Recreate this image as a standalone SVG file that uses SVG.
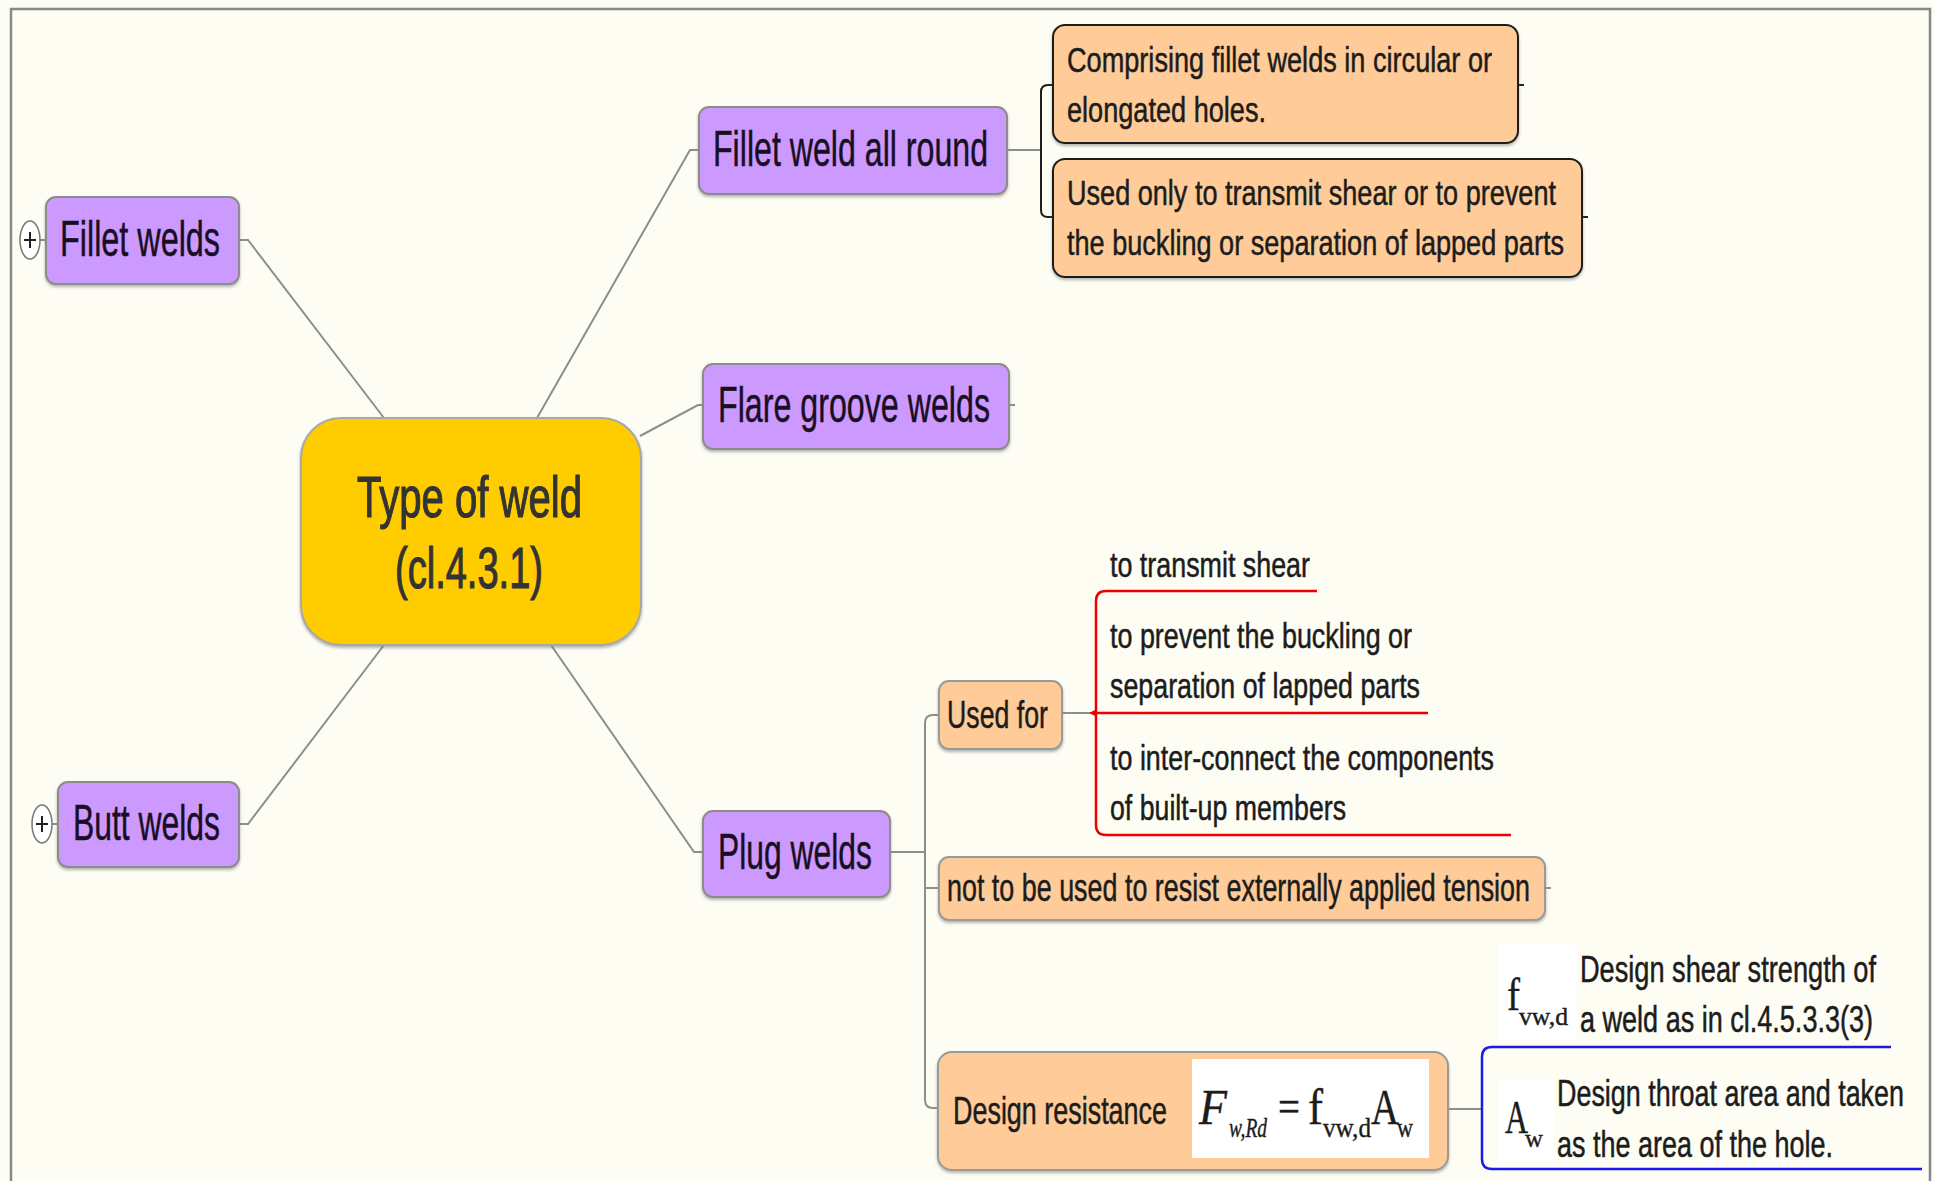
<svg xmlns="http://www.w3.org/2000/svg" width="1934" height="1181" viewBox="0 0 1934 1181">
<defs>
  <filter id="sh" x="-5%" y="-10%" width="110%" height="125%">
    <feDropShadow dx="0" dy="2" stdDeviation="1.5" flood-color="#777" flood-opacity="0.55"/>
  </filter>
</defs>
<style>
.sans{font-family:"Liberation Sans",Arial,sans-serif;fill:#1c1c1c;stroke:#1c1c1c;stroke-width:0.5}
.serif{font-family:"Liberation Serif","Times New Roman",serif;fill:#1c1c1c;stroke:#1c1c1c;stroke-width:0.4}
.purple{fill:#CC99FF;stroke:#8c8c8c;stroke-width:2;filter:url(#sh)}
.orange{fill:#FFCC99;stroke:#9a9a9a;stroke-width:2;filter:url(#sh)}
.orangeDark{fill:#FFCC99;stroke:#1e1e1e;stroke-width:2;filter:url(#sh)}
.central{fill:#FFCC00;stroke:#a8a8a8;stroke-width:2;filter:url(#sh)}
.ptxt{font-size:50px;fill:#1a0f22;stroke:#1a0f22}
.ctxt{fill:#333;stroke:#333;stroke-width:1.2}
.conn{fill:none;stroke:#8e8e8e;stroke-width:2}
.blk{fill:none;stroke:#1e1e1e;stroke-width:2}
.red{fill:none;stroke:#EE0000;stroke-width:2.5}
.blue{fill:none;stroke:#1a1aEE;stroke-width:2.5}
.plus{fill:#ffffff;stroke:#777;stroke-width:1.5}
.plusl{stroke:#222;stroke-width:2}
</style>
<rect x="0" y="0" width="1934" height="1181" fill="#FDFDF4"/>
<path d="M11,1181 V9 H1930 V1181" fill="none" stroke="#888" stroke-width="2.5"/>

<g id="connectors">
  <path class="conn" d="M239,240 H248 L384,418"/>
  <path class="conn" d="M537,418 L690,150 H699"/>
  <path class="conn" d="M640,436 L698,405 H703"/>
  <path class="conn" d="M1009,405 H1015"/>
  <path class="conn" d="M551,645 L694,852 H703"/>
  <path class="conn" d="M384,645 L248,824 H239"/>
  <path class="conn" d="M40,240 H46"/>
  <path class="conn" d="M52,824 H58"/>
  <path class="conn" d="M1007,150 H1041"/>
  <path class="blk" d="M1053,85 H1048 Q1041,85 1041,92 V210 Q1041,217 1048,217 H1053"/>
  <path class="blk" d="M1518,85 H1524"/>
  <path class="blk" d="M1582,217 H1588"/>
  <path class="conn" d="M890,852 H925"/>
  <path class="conn" d="M939,715 H933 Q925,715 925,723 V1100 Q925,1108 933,1108 H939"/>
  <path class="conn" d="M925,888 H939"/>
  <path class="conn" d="M1545,888 H1551"/>
  <path class="conn" d="M1062,713 H1096"/>
  <path class="red" d="M1317,591 H1106 Q1096,591 1096,601 V825 Q1096,835 1106,835 H1511"/>
  <path class="red" d="M1094,713 H1428"/>
  <path d="M1089,713 L1097,709 L1097,717 Z" fill="#EE0000"/>
  <path class="conn" d="M1448,1109 H1482"/>
  <path class="blue" d="M1891,1047 H1492 Q1482,1047 1482,1057 V1159 Q1482,1169 1492,1169 H1922"/>
</g>

<g id="node-type-of-weld">
  <rect class="central" x="301" y="418" width="340" height="227" rx="40"/>
  <text class="sans ctxt" x="357" y="517" font-size="58" textLength="225" lengthAdjust="spacingAndGlyphs">Type of weld</text>
  <text class="sans ctxt" x="395" y="588" font-size="58" textLength="148" lengthAdjust="spacingAndGlyphs">(cl.4.3.1)</text>
</g>

<g id="node-fillet-welds">
  <rect class="purple" x="46" y="197" width="193" height="87" rx="10"/>
  <text class="sans ptxt" x="60" y="256" textLength="160" lengthAdjust="spacingAndGlyphs">Fillet welds</text>
  <ellipse class="plus" cx="30" cy="240" rx="10" ry="19"/>
  <path class="plusl" d="M24,240 H36 M30,232 V248"/>
</g>

<g id="node-butt-welds">
  <rect class="purple" x="58" y="782" width="181" height="85" rx="10"/>
  <text class="sans ptxt" x="73" y="840" textLength="147" lengthAdjust="spacingAndGlyphs">Butt welds</text>
  <ellipse class="plus" cx="42" cy="824" rx="10" ry="19"/>
  <path class="plusl" d="M36,824 H48 M42,816 V832"/>
</g>

<g id="node-fillet-weld-all-round">
  <rect class="purple" x="699" y="107" width="308" height="87" rx="10"/>
  <text class="sans ptxt" x="713" y="166" textLength="275" lengthAdjust="spacingAndGlyphs">Fillet weld all round</text>
</g>

<g id="node-comprising">
  <rect class="orangeDark" x="1053" y="25" width="465" height="118" rx="12"/>
  <text class="sans" x="1067" y="72" font-size="35" textLength="425" lengthAdjust="spacingAndGlyphs">Comprising fillet welds in circular or</text>
  <text class="sans" x="1067" y="122" font-size="35" textLength="199" lengthAdjust="spacingAndGlyphs">elongated holes.</text>
</g>

<g id="node-used-only">
  <rect class="orangeDark" x="1053" y="159" width="529" height="118" rx="12"/>
  <text class="sans" x="1067" y="205" font-size="35" textLength="489" lengthAdjust="spacingAndGlyphs">Used only to transmit shear or to prevent</text>
  <text class="sans" x="1067" y="255" font-size="35" textLength="497" lengthAdjust="spacingAndGlyphs">the buckling or separation of lapped parts</text>
</g>

<g id="node-flare-groove-welds">
  <rect class="purple" x="703" y="364" width="306" height="85" rx="10"/>
  <text class="sans ptxt" x="718" y="422" textLength="272" lengthAdjust="spacingAndGlyphs">Flare groove welds</text>
</g>

<g id="node-plug-welds">
  <rect class="purple" x="703" y="811" width="187" height="86" rx="10"/>
  <text class="sans ptxt" x="718" y="869" textLength="154" lengthAdjust="spacingAndGlyphs">Plug welds</text>
</g>

<g id="node-used-for">
  <rect class="orange" x="939" y="681" width="123" height="68" rx="10"/>
  <text class="sans" x="947" y="728" font-size="38" textLength="101" lengthAdjust="spacingAndGlyphs">Used for</text>
</g>

<g id="node-to-transmit-shear">
  <text class="sans" x="1110" y="577" font-size="35" textLength="200" lengthAdjust="spacingAndGlyphs">to transmit shear</text>
</g>
<g id="node-to-prevent">
  <text class="sans" x="1110" y="648" font-size="35" textLength="302" lengthAdjust="spacingAndGlyphs">to prevent the buckling or</text>
  <text class="sans" x="1110" y="698" font-size="35" textLength="310" lengthAdjust="spacingAndGlyphs">separation of lapped parts</text>
</g>
<g id="node-to-inter-connect">
  <text class="sans" x="1110" y="770" font-size="35" textLength="384" lengthAdjust="spacingAndGlyphs">to inter-connect the components</text>
  <text class="sans" x="1110" y="820" font-size="35" textLength="236" lengthAdjust="spacingAndGlyphs">of built-up members</text>
</g>

<g id="node-not-to-be-used">
  <rect class="orange" x="939" y="857" width="606" height="63" rx="10"/>
  <text class="sans" x="947" y="901" font-size="38" textLength="583" lengthAdjust="spacingAndGlyphs">not to be used to resist externally applied tension</text>
</g>

<g id="node-design-resistance">
  <rect class="orange" x="938" y="1052" width="510" height="118" rx="14"/>
  <text class="sans" x="953" y="1124" font-size="39" textLength="214" lengthAdjust="spacingAndGlyphs">Design resistance</text>
  <rect x="1192" y="1059" width="237" height="99" fill="#ffffff"/>
  <text class="serif" x="1199" y="1124" font-size="50" font-style="italic" textLength="28" lengthAdjust="spacingAndGlyphs">F</text>
  <text class="serif" x="1229" y="1137" font-size="28" font-style="italic" textLength="38" lengthAdjust="spacingAndGlyphs">w,Rd</text>
  <text class="serif" x="1278" y="1121" font-size="44" textLength="22" lengthAdjust="spacingAndGlyphs">=</text>
  <text class="serif" x="1308" y="1124" font-size="50" textLength="15" lengthAdjust="spacingAndGlyphs">f</text>
  <text class="serif" x="1323" y="1137" font-size="28" textLength="48" lengthAdjust="spacingAndGlyphs">vw,d</text>
  <text class="serif" x="1371" y="1124" font-size="50" textLength="28" lengthAdjust="spacingAndGlyphs">A</text>
  <text class="serif" x="1397" y="1137" font-size="28" textLength="16" lengthAdjust="spacingAndGlyphs">w</text>
</g>

<g id="node-fvwd">
  <rect x="1498" y="943" width="79" height="97" fill="#ffffff"/>
  <text class="serif" x="1507" y="1010" font-size="46" textLength="13" lengthAdjust="spacingAndGlyphs">f</text>
  <text class="serif" x="1519" y="1025" font-size="26" textLength="49" lengthAdjust="spacingAndGlyphs">vw,d</text>
  <text class="sans" x="1580" y="982" font-size="36" textLength="296" lengthAdjust="spacingAndGlyphs">Design shear strength of</text>
  <text class="sans" x="1580" y="1032" font-size="36" textLength="293" lengthAdjust="spacingAndGlyphs">a weld as in cl.4.5.3.3(3)</text>
</g>

<g id="node-aw">
  <rect x="1498" y="1080" width="56" height="83" fill="#ffffff"/>
  <text class="serif" x="1505" y="1133" font-size="46" textLength="23" lengthAdjust="spacingAndGlyphs">A</text>
  <text class="serif" x="1525" y="1147" font-size="26" textLength="18" lengthAdjust="spacingAndGlyphs">w</text>
  <text class="sans" x="1557" y="1106" font-size="36" textLength="347" lengthAdjust="spacingAndGlyphs">Design throat area and taken</text>
  <text class="sans" x="1557" y="1157" font-size="36" textLength="276" lengthAdjust="spacingAndGlyphs">as the area of the hole.</text>
</g>
</svg>
